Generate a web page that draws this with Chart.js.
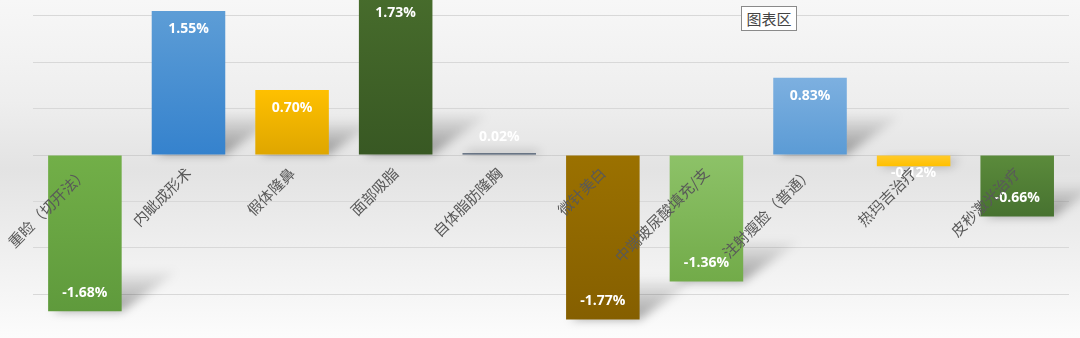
<!DOCTYPE html>
<html lang="zh">
  <head>
    <meta charset="UTF-8" />
    <title>项目价格变动</title>
    <script src="https://cdn.jsdelivr.net/npm/chart.js"></script>
    <style>
      html, body {
        margin: 0;
        padding: 0;
      }
      .wrap {
        position: relative;
        width: 1080px;
        height: 338px;
        background: linear-gradient(#f7f7f7 0%, #eeeeee 30%, #e3e3e3 50%, #eeeeee 72%, #fcfcfc 100%);
      }
      .tip {
        position: absolute;
        left: 741px;
        top: 6px;
        width: 54px;
        height: 23px;
        border: 1px solid #8a8a8a;
        background: #fff;
        font: 15px 'Noto Sans CJK SC', sans-serif;
        line-height: 23px;
        color: #444;
        text-align: center;
      }
    </style>
  </head>
  <body>
    <div class="wrap">
      <canvas id="chart" width="1080" height="338"></canvas>
      <div class="tip">图表区</div>
    </div>

    <script>
      const categories = ['重睑（切开法）', '内眦成形术', '假体隆鼻', '面部吸脂', '自体脂肪隆胸',
        '微针美白', '中端玻尿酸填充/支', '注射瘦脸（普通）', '热玛吉治疗', '皮秒激光治疗'];
      const values = [-1.68, 1.55, 0.70, 1.73, 0.02, -1.77, -1.36, 0.83, -0.12, -0.66];
      const yTicks = [-1.5, -1, -0.5, 0, 0.5, 1, 1.5];

      // gradient colours per bar (top, bottom)
      const topColors = ['#72af48', '#5d9dd6', '#ffc000', '#476c2c', '#44546a',
        '#9b7100', '#8dc268', '#7db0e0', '#ffca2c', '#5b8b3b'];
      const bottomColors = ['#5f9a3c', '#3582cd', '#dea600', '#385823', '#44546a',
        '#855f00', '#72ab49', '#5b9bd5', '#ffc000', '#477230'];

      function barGradient(c) {
        const chart = c.chart;
        const y = chart.scales.y;
        const i = c.dataIndex;
        if (!y || i === undefined) return topColors[0];
        const p1 = y.getPixelForValue(values[i]);
        const p0 = y.getPixelForValue(0);
        if (!isFinite(p0) || !isFinite(p1)) return topColors[i];
        const top = Math.min(p0, p1), bot = Math.max(p0, p1);
        if (bot - top < 1) return topColors[i];
        const g = chart.ctx.createLinearGradient(0, top, 0, bot);
        g.addColorStop(0, topColors[i]);
        g.addColorStop(1, bottomColors[i]);
        return g;
      }

      const shadowPlugin = {
        id: 'barShadow',
        beforeDatasetsDraw(chart) {
          const ctx = chart.ctx;
          const meta = chart.getDatasetMeta(0);
          ctx.save();
          ctx.filter = 'blur(5px)';
          meta.data.forEach((bar) => {
            const half = bar.width / 2;
            const x0 = bar.x - half, x1 = bar.x + half;
            const len = Math.abs(bar.base - bar.y);
            const yb = Math.max(bar.y, bar.base);
            const dy = Math.min(40, len * 0.45 + 4);
            const dx = dy * 1.4;
            const g = ctx.createLinearGradient(0, yb, 0, yb - dy);
            g.addColorStop(0, 'rgba(0,0,0,0.36)');
            g.addColorStop(1, 'rgba(0,0,0,0.03)');
            ctx.fillStyle = g;
            ctx.beginPath();
            ctx.moveTo(x0 + 4, yb);
            ctx.lineTo(x1, yb);
            ctx.lineTo(x1 + dx, yb - dy);
            ctx.lineTo(x0 + dx, yb - dy);
            ctx.closePath();
            ctx.fill();
          });
          ctx.restore();
        }
      };

      const labelPlugin = {
        id: 'barLabels',
        afterDatasetsDraw(chart) {
          const ctx = chart.ctx;
          const meta = chart.getDatasetMeta(0);
          const zero = chart.scales.y.getPixelForValue(0);
          ctx.save();
          ctx.font = 'bold 14px "Open Sans", sans-serif';
          ctx.fillStyle = '#ffffff';
          ctx.textAlign = 'center';
          ctx.textBaseline = 'middle';
          meta.data.forEach((bar, i) => {
            const v = values[i];
            const len = Math.abs(bar.base - bar.y);
            const dist = Math.max(len - 18, 18);
            const y = v >= 0 ? zero - dist : zero + dist;
            ctx.fillText(v.toFixed(2) + '%', bar.x, y);
          });
          ctx.restore();
        }
      };

      new Chart(document.getElementById('chart'), {
        type: 'bar',
        data: {
          labels: categories,
          datasets: [{
            data: values,
            backgroundColor: barGradient,
            borderWidth: 0,
            categoryPercentage: 1,
            barPercentage: 0.71
          }]
        },
        options: {
          responsive: false,
          animation: false,
          layout: { padding: { left: 33, right: 11, top: 0, bottom: 0 } },
          plugins: {
            legend: { display: false },
            tooltip: { enabled: false }
          },
          scales: {
            x: {
              position: { y: 0 },
              grid: { display: false, drawTicks: false },
              border: { display: true, color: '#cfcfcf', width: 1 },
              ticks: {
                z: 1,
                autoSkip: false,
                maxRotation: 45,
                minRotation: 45,
                padding: 9,
                color: '#595959',
                font: { family: '"Noto Sans CJK SC", sans-serif', size: 15 }
              }
            },
            y: {
              min: -1.968,
              max: 1.667,
              grid: { color: '#d8d8d8', lineWidth: 1, drawTicks: false },
              border: { display: false },
              ticks: { display: false },
              afterBuildTicks(scale) {
                scale.ticks = yTicks.map((v) => ({ value: v }));
              }
            }
          }
        },
        plugins: [shadowPlugin, labelPlugin]
      });
    </script>
  </body>
</html>
